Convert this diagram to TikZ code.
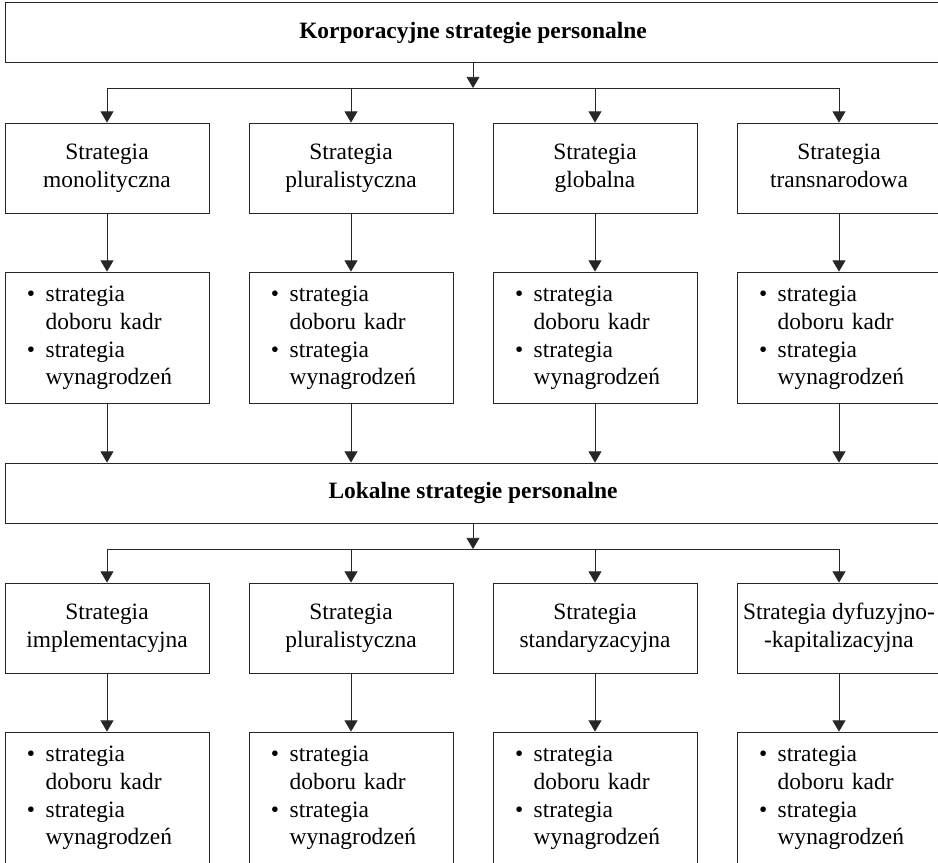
\documentclass[tikz,border=0pt]{standalone}
\usepackage{fontspec}
\setmainfont{Liberation Serif}
\usepackage{tikz}
\usetikzlibrary{arrows.meta}

\newcommand{\listakadr}{%
  \begin{tabular}{@{}l@{\hspace{9pt}}l@{}}
    \textbullet & strategia\\
                & doboru kadr\\
    \textbullet & strategia\\
                & wynagrodzeń
  \end{tabular}}

\begin{document}
\begin{tikzpicture}[x=0.03cm, y=-0.03cm,
    font=\fontsize{20}{23.8}\selectfont,
    wide/.style={draw=black!85, line width=0.7pt, minimum width=28.08cm, minimum height=1.8cm,
      font=\fontsize{20}{23.8}\selectfont\bfseries},
    strat/.style={draw=black!85, line width=0.7pt, minimum width=6.12cm, minimum height=2.7cm,
      align=center, execute at end node=\vphantom{y}},
    lst/.style={draw=black!85, line width=0.7pt, text width=4.8cm, inner xsep=0.66cm,
      minimum height=3.93cm, align=left},
    arr/.style={draw=black!85, line width=0.7pt, -{Triangle[width=11pt,length=9.5pt]}}]
    \useasboundingbox (0,0) rectangle (938,863);
    \clip (0,0) rectangle (938,862.3);

    % korporacyjne
    \node[wide] (K) at (473, 32.5) {Korporacyjne strategie personalne};
    \coordinate (KB) at (473, 88);

    \node[strat] (G1) at (107, 168) {Strategia\\monolityczna};
    \node[strat] (G2) at (351, 168) {Strategia\\pluralistyczna};
    \node[strat] (G3) at (595, 168) {Strategia\\globalna};
    \node[strat] (G4) at (839, 168) {Strategia\\transnarodowa};

    \node[lst] (GL1) at (107, 337.5) {\listakadr};
    \node[lst] (GL2) at (351, 337.5) {\listakadr};
    \node[lst] (GL3) at (595, 337.5) {\listakadr};
    \node[lst] (GL4) at (839, 337.5) {\listakadr};

    % lokalne
    \node[wide] (L) at (473, 493) {Lokalne strategie personalne};
    \coordinate (LB) at (473, 549);

    \node[strat] (S1) at (107, 628) {Strategia\\implementacyjna};
    \node[strat] (S2) at (351, 628) {Strategia\\pluralistyczna};
    \node[strat] (S3) at (595, 628) {Strategia\\standaryzacyjna};
    \node[strat] (S4) at (839, 628) {Strategia dyfuzyjno-\\-kapitalizacyjna};

    \node[lst] (SL1) at (107, 797.5) {\listakadr};
    \node[lst] (SL2) at (351, 797.5) {\listakadr};
    \node[lst] (SL3) at (595, 797.5) {\listakadr};
    \node[lst] (SL4) at (839, 797.5) {\listakadr};

    \draw[arr] (K.south) -- (KB);
    \draw[arr] (KB) -| (G1);
    \draw[arr] (KB) -| (G2);
    \draw[arr] (KB) -| (G3);
    \draw[arr] (KB) -| (G4);

    \draw[arr] (G1) -- (GL1);
    \draw[arr] (G2) -- (GL2);
    \draw[arr] (G3) -- (GL3);
    \draw[arr] (G4) -- (GL4);

    \draw[arr] (GL1) -- (GL1 |- L.north);
    \draw[arr] (GL2) -- (GL2 |- L.north);
    \draw[arr] (GL3) -- (GL3 |- L.north);
    \draw[arr] (GL4) -- (GL4 |- L.north);

    \draw[arr] (L.south) -- (LB);
    \draw[arr] (LB) -| (S1);
    \draw[arr] (LB) -| (S2);
    \draw[arr] (LB) -| (S3);
    \draw[arr] (LB) -| (S4);

    \draw[arr] (S1) -- (SL1);
    \draw[arr] (S2) -- (SL2);
    \draw[arr] (S3) -- (SL3);
    \draw[arr] (S4) -- (SL4);
\end{tikzpicture}
\end{document}
